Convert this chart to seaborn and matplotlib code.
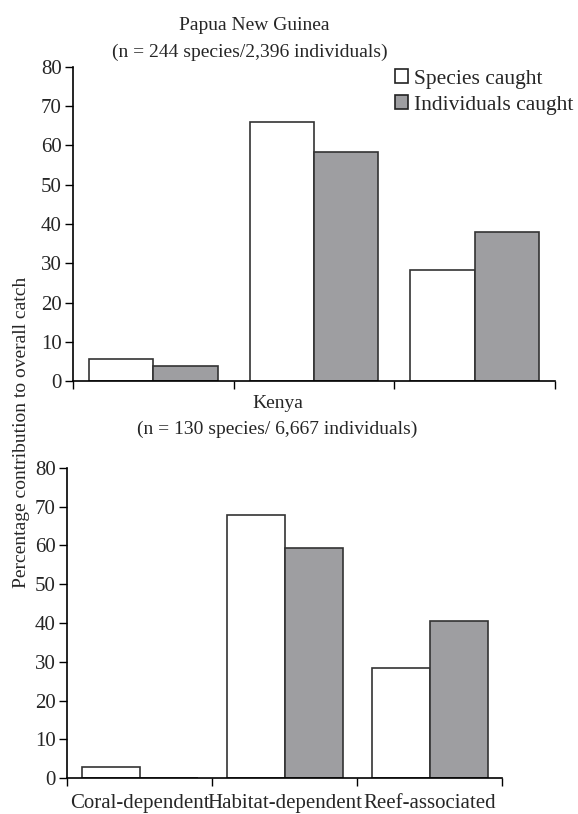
import matplotlib
matplotlib.use("Agg")
import matplotlib.pyplot as plt
import seaborn as sns
import pandas as pd

categories = ["Coral-dependent", "Habitat-dependent", "Reef-associated"]
series = ["Species caught", "Individuals caught"]
png_species = [5.5, 66.0, 28.4]
png_individuals = [3.7, 58.3, 38.0]
kenya_species = [2.8, 67.7, 28.4]
kenya_individuals = [0.0, 59.3, 40.5]
yticks = [0, 10, 20, 30, 40, 50, 60, 70, 80]

sns.set_style("white")
plt.rcParams['font.family'] = ['Liberation Serif', 'DejaVu Serif']
FS = 14
TFS = 15

fig = plt.figure(figsize=(5.78, 8.14), dpi=100)
ax1 = fig.add_axes([73/578, 1-381/814, (555-73)/578, (381-67)/814])
ax2 = fig.add_axes([67/578, 1-778.3/814, (502-67)/578, (778.3-467.7)/814])

def make_df(sp, ind):
    return pd.DataFrame({
        "cat": categories * 2,
        "series": [series[0]] * 3 + [series[1]] * 3,
        "val": list(sp) + list(ind),
    })

palette = {series[0]: "white", series[1]: "#9d9ea2"}

for ax, sp, ind in [(ax1, png_species, png_individuals), (ax2, kenya_species, kenya_individuals)]:
    df = make_df(sp, ind)
    sns.barplot(data=df, x="cat", y="val", hue="series", order=categories,
                hue_order=series, palette=palette, width=0.8, gap=0,
                edgecolor="#333333", linewidth=1.2, ax=ax, legend=(ax is ax1))
    ax.set_xlim(-0.5, 2.5)
    ax.set_ylim(0, 80)
    ax.set_yticks(yticks)
    ax.set_yticklabels([str(t) for t in yticks], fontsize=TFS)
    ax.set_xticks([-0.5, 0.5, 1.5, 2.5])
    ax.set_xticklabels([])
    ax.set_xticks([0, 1, 2], minor=True)
    ax.tick_params(axis="x", which="major", direction="out", length=6, width=1, color="black", bottom=True)
    ax.tick_params(axis="x", which="minor", length=0, pad=11)
    ax.tick_params(axis="y", direction="out", length=6, width=1, color="black", left=True, pad=2)
    ax.set_xlabel("")
    ax.set_ylabel("")
    for s in ["top", "right"]:
        ax.spines[s].set_visible(False)
    for s in ["left", "bottom"]:
        ax.spines[s].set_color("black")
        ax.spines[s].set_linewidth(1.2)

ax1.set_xticklabels([], minor=True)
ax2.set_xticklabels(categories, minor=True, fontsize=TFS)

leg = ax1.legend(loc="upper right", bbox_to_anchor=(1.055, 1.02), frameon=False,
                 fontsize=15.5, handlelength=0.6, handleheight=0.6, handletextpad=0.25,
                 labelspacing=0.3, borderaxespad=0)
for h in leg.legend_handles:
    h.set_edgecolor("#222222")

fig.text(254/578, 1-25/814, "Papua New Guinea", ha="center", va="center", fontsize=FS)
fig.text(250/578, 1-52/814, "(n = 244 species/2,396 individuals)", ha="center", va="center", fontsize=FS)
fig.text(278/578, 1-404/814, "Kenya", ha="center", va="center", fontsize=FS)
fig.text(277/578, 1-429/814, "(n = 130 species/ 6,667 individuals)", ha="center", va="center", fontsize=FS)
fig.text(22/578, 1-432/814, "Percentage contribution to overall catch", rotation=90,
         ha="center", va="center", fontsize=FS)

fig.savefig("out.png", dpi=100)
